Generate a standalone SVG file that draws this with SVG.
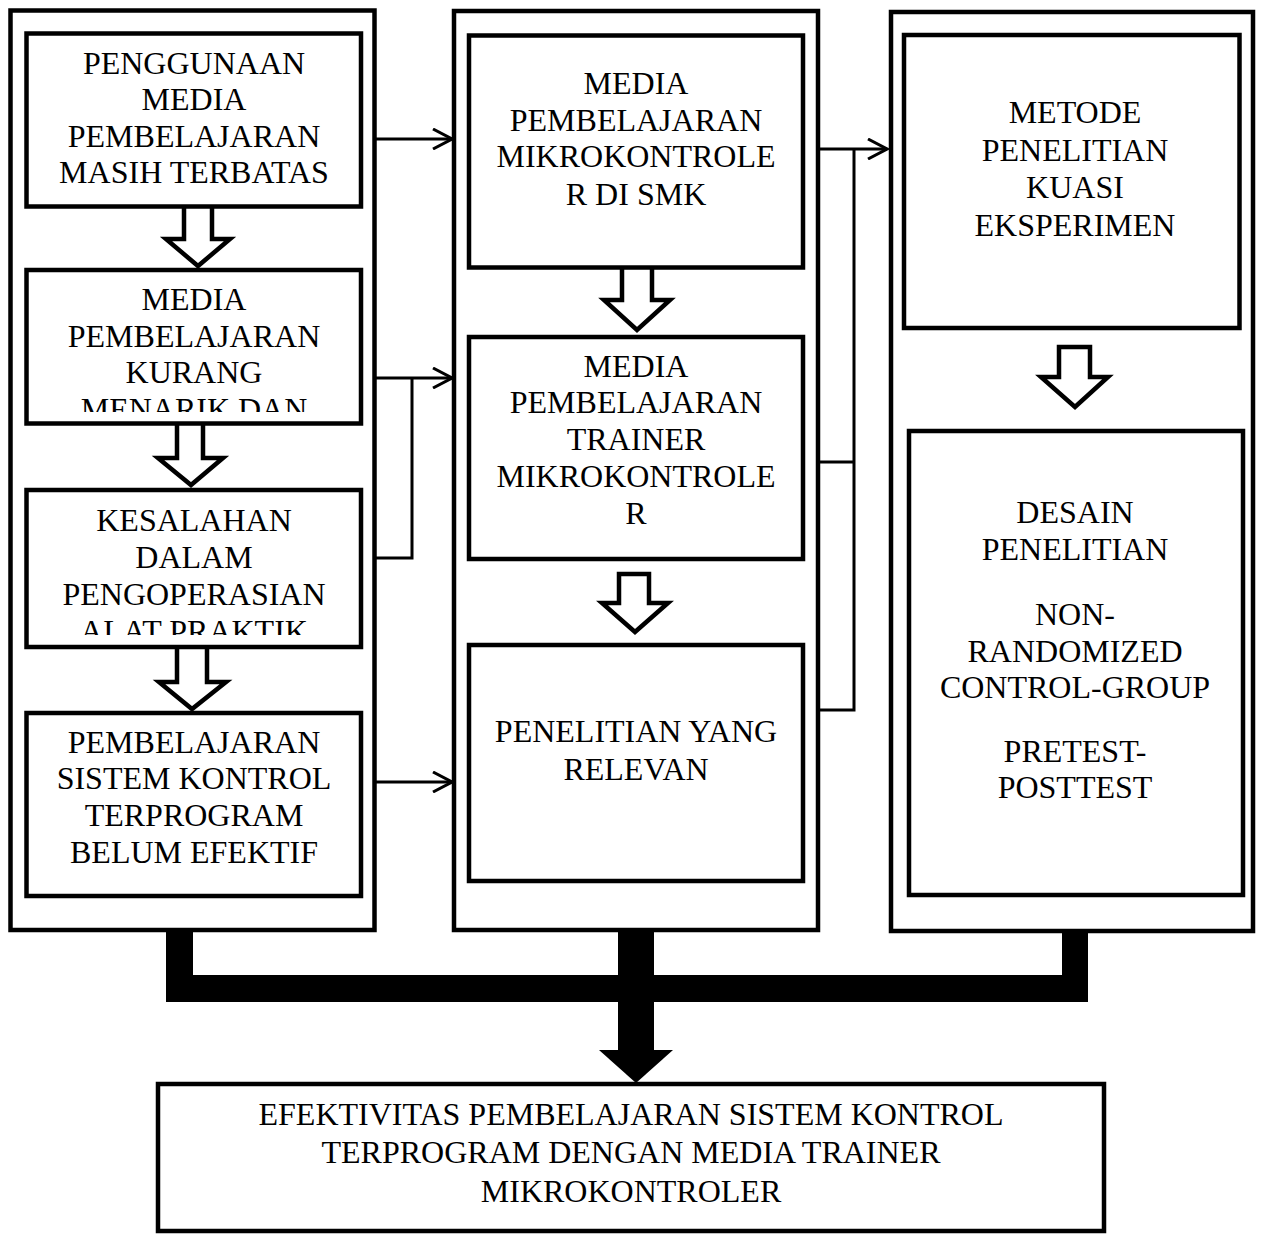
<svg xmlns="http://www.w3.org/2000/svg" width="1264" height="1234" viewBox="0 0 1264 1234">
<style>
.frame{fill:none;stroke:#000;stroke-width:4.5}
.box{fill:#fff;stroke:#000;stroke-width:4.5}
.hollow{fill:#fff;stroke:#000;stroke-width:4.5;stroke-linejoin:miter}
.thin{fill:none;stroke:#000;stroke-width:3}
.solid{fill:#000;stroke:none}
.t{font-family:"Liberation Serif","Times New Roman",serif;font-size:32px;fill:#000;text-anchor:middle}
</style>
<defs>
<marker id="open" viewBox="0 0 22 22" refX="20" refY="11" markerWidth="22" markerHeight="22" markerUnits="userSpaceOnUse" orient="auto">
<path d="M1,1 L20,11 L1,21" fill="none" stroke="#000" stroke-width="3"/>
</marker>
<clipPath id="clip2"><rect x="28" y="270" width="332" height="142"/></clipPath>
<clipPath id="clip3"><rect x="28" y="490" width="332" height="145"/></clipPath>
</defs>
<rect width="1264" height="1234" fill="#fff"/>

<g id="containers">
<rect class="frame" x="10.5" y="10.5" width="364" height="919.5"/>
<rect class="frame" x="454" y="11" width="364" height="919"/>
<rect class="frame" x="891" y="12" width="362" height="919"/>
</g>

<g id="connectors">
<line class="thin" x1="374" y1="139" x2="452" y2="139" marker-end="url(#open)"/>
<line class="thin" x1="374" y1="378" x2="452" y2="378" marker-end="url(#open)"/>
<polyline class="thin" points="412,378 412,558 374,558"/>
<line class="thin" x1="374" y1="782" x2="452" y2="782" marker-end="url(#open)"/>
<line class="thin" x1="818" y1="149" x2="887" y2="149" marker-end="url(#open)"/>
<polyline class="thin" points="854,149 854,710 818,710"/>
<line class="thin" x1="818" y1="462" x2="854" y2="462"/>
<path class="hollow" d="M184,207 L184,239 L166,239 L198,266 L230,239 L212,239 L212,207"/>
<path class="hollow" d="M177,424 L177,458 L158,458 L191,485 L223,458 L203,458 L203,424"/>
<path class="hollow" d="M177,648 L177,682 L159,682 L192,709 L226,682 L207,682 L207,648"/>
<path class="hollow" d="M622,268 L622,300 L604,300 L637,330 L670,300 L652,300 L652,268"/>
<path class="hollow" d="M619,574 L649,574 L649,603 L668,603 L635,632 L602,603 L619,603 Z"/>
<path class="hollow" d="M1059,347 L1090,347 L1090,377 L1108,377 L1075,407 L1041,377 L1059,377 Z"/>
<rect class="solid" x="166" y="930" width="27" height="72"/>
<rect class="solid" x="166" y="975" width="922" height="27"/>
<rect class="solid" x="1062" y="931" width="26" height="71"/>
<rect class="solid" x="618" y="930" width="36" height="121"/>
<polygon class="solid" points="599,1050 673,1050 636,1083"/>
</g>

<g id="n1">
<rect class="box" x="26.5" y="33.5" width="334.5" height="173"/>
<text class="t"><tspan x="194" y="74">PENGGUNAAN</tspan><tspan x="194" y="110">MEDIA</tspan><tspan x="194" y="147">PEMBELAJARAN</tspan><tspan x="194" y="183">MASIH TERBATAS</tspan></text>
</g>
<g id="n2">
<rect class="box" x="26.5" y="270" width="334.5" height="153.5"/>
<text class="t" clip-path="url(#clip2)"><tspan x="194" y="310">MEDIA</tspan><tspan x="194" y="347">PEMBELAJARAN</tspan><tspan x="194" y="383">KURANG</tspan><tspan x="194" y="420">MENARIK DAN</tspan></text>
</g>
<g id="n3">
<rect class="box" x="26.5" y="490" width="334.5" height="157"/>
<text class="t" clip-path="url(#clip3)"><tspan x="194" y="531">KESALAHAN</tspan><tspan x="194" y="568">DALAM</tspan><tspan x="194" y="605">PENGOPERASIAN</tspan><tspan x="194" y="642">ALAT PRAKTIK</tspan></text>
</g>
<g id="n4">
<rect class="box" x="26.5" y="713" width="334.5" height="183"/>
<text class="t"><tspan x="194" y="753">PEMBELAJARAN</tspan><tspan x="194" y="789">SISTEM KONTROL</tspan><tspan x="194" y="826">TERPROGRAM</tspan><tspan x="194" y="863">BELUM EFEKTIF</tspan></text>
</g>

<g id="m1">
<rect class="box" x="469" y="35.5" width="334" height="232"/>
<text class="t"><tspan x="636" y="94">MEDIA</tspan><tspan x="636" y="131">PEMBELAJARAN</tspan><tspan x="636" y="167">MIKROKONTROLE</tspan><tspan x="636" y="205">R DI SMK</tspan></text>
</g>
<g id="m2">
<rect class="box" x="469" y="337" width="334" height="222"/>
<text class="t"><tspan x="636" y="377">MEDIA</tspan><tspan x="636" y="413">PEMBELAJARAN</tspan><tspan x="636" y="450">TRAINER</tspan><tspan x="636" y="487">MIKROKONTROLE</tspan><tspan x="636" y="524">R</tspan></text>
</g>
<g id="m3">
<rect class="box" x="469" y="645" width="334" height="236"/>
<text class="t"><tspan x="636" y="742">PENELITIAN YANG</tspan><tspan x="636" y="780">RELEVAN</tspan></text>
</g>

<g id="r1">
<rect class="box" x="904" y="35" width="335.5" height="293"/>
<text class="t"><tspan x="1075" y="123">METODE</tspan><tspan x="1075" y="161">PENELITIAN</tspan><tspan x="1075" y="198">KUASI</tspan><tspan x="1075" y="236">EKSPERIMEN</tspan></text>
</g>
<g id="r2">
<rect class="box" x="909" y="431" width="334" height="464"/>
<text class="t"><tspan x="1075" y="523">DESAIN</tspan><tspan x="1075" y="560">PENELITIAN</tspan><tspan x="1075" y="625">NON-</tspan><tspan x="1075" y="662">RANDOMIZED</tspan><tspan x="1075" y="698">CONTROL-GROUP</tspan><tspan x="1075" y="762">PRETEST-</tspan><tspan x="1075" y="798">POSTTEST</tspan></text>
</g>

<g id="result">
<rect class="box" x="158" y="1084" width="946" height="147"/>
<text class="t"><tspan x="631" y="1125">EFEKTIVITAS PEMBELAJARAN SISTEM KONTROL</tspan><tspan x="631" y="1163">TERPROGRAM DENGAN MEDIA TRAINER</tspan><tspan x="631" y="1202">MIKROKONTROLER</tspan></text>
</g>
</svg>
